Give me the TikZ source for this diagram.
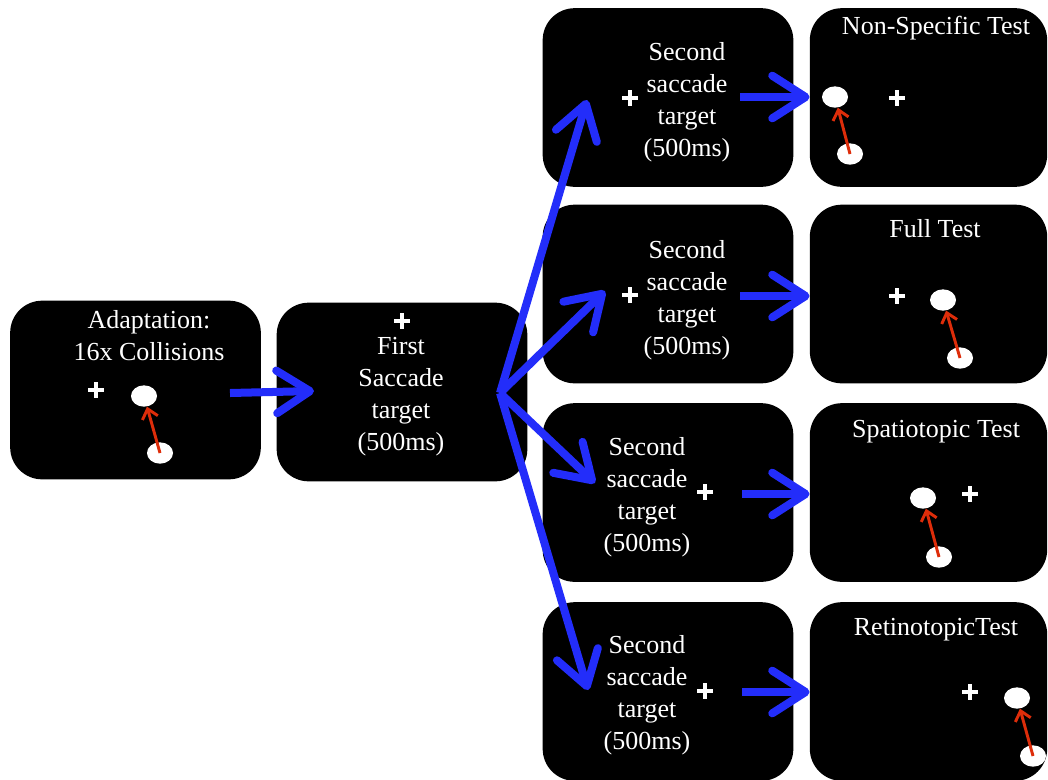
\documentclass[tikz,border=0pt]{standalone}
\usepackage{fontspec}
\setmainfont{Liberation Serif}
\usepackage{xcolor}
\usetikzlibrary{arrows.meta,shapes.geometric}

\definecolor{flowblue}{RGB}{35,45,250}
\definecolor{hitred}{RGB}{222,45,10}

\begin{document}
\begin{tikzpicture}[x=0.75pt,y=-0.75pt,
    screen/.style={fill=black, rounded corners=24pt, minimum width=188pt, minimum height=134pt, inner sep=0pt},
    txt/.style={text=white, align=center, inner sep=0pt, font=\fontsize{19.5}{24}\selectfont},
    fix/.style={minimum size=12pt, inner sep=0pt, path picture={
        \draw[white, line width=3.5pt] (path picture bounding box.north) -- (path picture bounding box.south)
             (path picture bounding box.west) -- (path picture bounding box.east);}},
    dot/.style={ellipse, fill=white, minimum width=19.5pt, minimum height=16pt, inner sep=0pt},
    flow/.style={draw=flowblue, line width=6pt, -{Straight Barb[length=25pt,width=32pt,round]}},
    hit/.style={draw=hitred, line width=2.2pt, -{Straight Barb[length=7pt,width=12pt]}}]

    \useasboundingbox (0,0) rectangle (1048,779);

    % Screens
    \node[screen] (adapt) at (135.5,390) {};
    \node[screen] (first) at (402,392) {};
    \node[screen] (s1) at (668,97.5) {};
    \node[screen] (s2) at (668,294) {};
    \node[screen] (s3) at (668,492.5) {};
    \node[screen] (s4) at (668,691.5) {};
    \node[screen, minimum width=178pt] (t1) at (928.5,97.5) {};
    \node[screen, minimum width=178pt] (t2) at (928.5,294) {};
    \node[screen, minimum width=178pt] (t3) at (928.5,492.5) {};
    \node[screen, minimum width=178pt] (t4) at (928.5,691.5) {};

    % Texts
    \node[txt] (adapttxt) at (149,336) {Adaptation:\\16x Collisions};
    \node[txt] (firsttxt) at (401,397) {First\\Saccade\\target\\(500ms)};
    \node[txt] (s1txt) at (687,102) {Second\\saccade\\target\\(500ms)};
    \node[txt] (s2txt) at (687,300) {Second\\saccade\\target\\(500ms)};
    \node[txt] (s3txt) at (647,497) {Second\\saccade\\target\\(500ms)};
    \node[txt] (s4txt) at (647,695) {Second\\saccade\\target\\(500ms)};
    \node[txt] (t1txt) at (936,28) {Non-Specific Test};
    \node[txt] (t2txt) at (935,229) {Full Test};
    \node[txt] (t3txt) at (936,432) {Spatiotopic Test};
    \node[txt] (t4txt) at (936,630) {RetinotopicTest};

    % Fixation crosses
    \node[fix] (adaptfix) at (96,390) {};
    \node[fix] (firstfix) at (402,321) {};
    \node[fix] (s1fix) at (630,98) {};
    \node[fix] (s2fix) at (630,295) {};
    \node[fix] (s3fix) at (705,492) {};
    \node[fix] (s4fix) at (705,691) {};
    \node[fix] (t1fix) at (897,98) {};
    \node[fix] (t2fix) at (897,296) {};
    \node[fix] (t3fix) at (970,494) {};
    \node[fix] (t4fix) at (970,692) {};

    % Dots
    \node[dot] (adaptup) at (144,396) {};
    \node[dot] (adaptlo) at (160,453) {};
    \node[dot] (t1up) at (835,97) {};
    \node[dot] (t1lo) at (850,154) {};
    \node[dot] (t2up) at (943,300) {};
    \node[dot] (t2lo) at (960,358) {};
    \node[dot] (t3up) at (923,498) {};
    \node[dot] (t3lo) at (939,557) {};
    \node[dot] (t4up) at (1017,698) {};
    \node[dot] (t4lo) at (1033,756) {};

    % Collisions
    \draw[hit] (adaptlo.center) -- (adaptup);
    \draw[hit] (t1lo.center) -- (t1up);
    \draw[hit] (t2lo.center) -- (t2up);
    \draw[hit] (t3lo.center) -- (t3up);
    \draw[hit] (t4lo.center) -- (t4up);

    % Arrow ends
    \coordinate (ago) at (230,393);
    \coordinate (aend) at (314,391);
    \coordinate (fork) at (500,393);
    \coordinate (s1end) at (587,100);
    \coordinate (s2end) at (605,291);
    \coordinate (s3end) at (595,483);
    \coordinate (s4end) at (588,690);
    \coordinate (s1go) at (740,97);
    \coordinate (s2go) at (740,296);
    \coordinate (s3go) at (742,494);
    \coordinate (s4go) at (742,692);

    % Sequence
    \draw[flow] (ago) -- (aend);
    \draw[flow] (fork) -- (s1end);
    \draw[flow] (fork) -- (s2end);
    \draw[flow] (fork) -- (s3end);
    \draw[flow] (fork) -- (s4end);
    \draw[flow] (s1go) -- (s1go -| t1.west);
    \draw[flow] (s2go) -- (s2go -| t2.west);
    \draw[flow] (s3go) -- (s3go -| t3.west);
    \draw[flow] (s4go) -- (s4go -| t4.west);

\end{tikzpicture}
\end{document}
